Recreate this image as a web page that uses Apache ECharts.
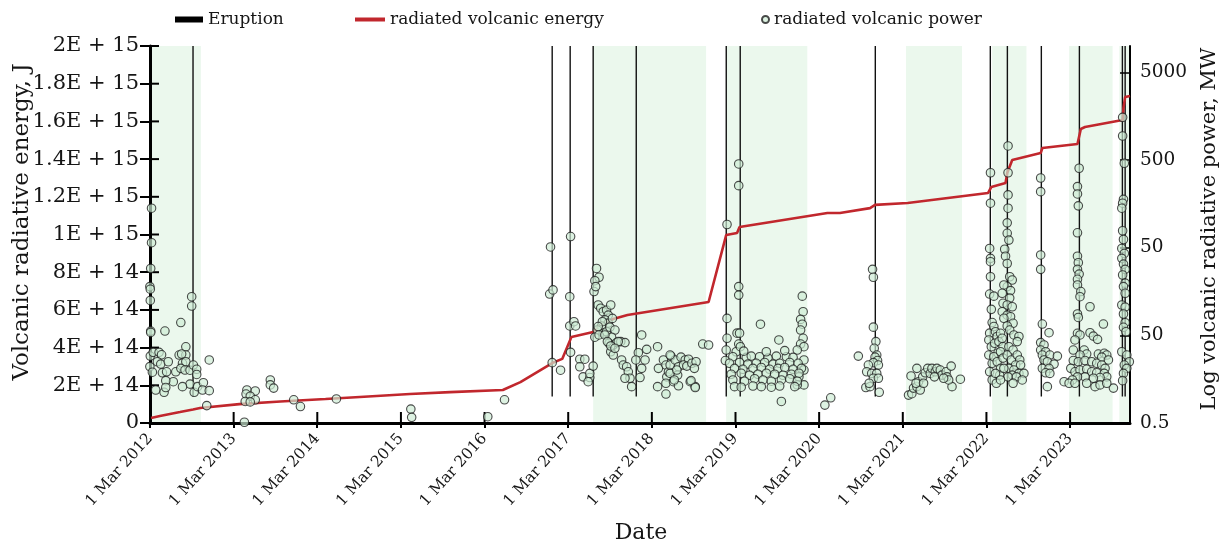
<!DOCTYPE html>
<html>
<head>
<meta charset="utf-8">
<script src="https://cdn.jsdelivr.net/npm/echarts@6/dist/echarts.min.js"></script>
<style>
html,body{margin:0;padding:0;background:#fff;}
#chart{width:1225px;height:547px;}
</style>
</head>
<body>
<div id="chart"></div>
<script>
// ---------- data (x values are decimal years) ----------
const xTickLabels = ['1 Mar 2012','1 Mar 2013','1 Mar 2014','1 Mar 2015','1 Mar 2016','1 Mar 2017',
  '1 Mar 2018','1 Mar 2019','1 Mar 2020','1 Mar 2021','1 Mar 2022','1 Mar 2023'];
const energyTickLabels = ['0','2E + 14','4E + 14','6E + 14','8E + 14','1E + 15','1.2E + 15','1.4E + 15',
  '1.6E + 15','1.8E + 15','2E + 15'];
const powerTickLabels = ['0.5','50','50','500','5000'];

const xMin = 2012.1616;   // 1 Mar 2012
const xMax = 2023.878;
const energyStep = 2e14;

// cumulative radiated volcanic energy, J
const energyDates = [2012.174,2012.28,2012.40,2012.52,2012.676,2012.76,2013.23,2013.72,2014.26,2014.67,
  2015.27,2015.75,2016.38,2016.59,2016.97,2017.09,2017.20,2017.46,2017.54,2017.70,2017.87,2018.84,
  2019.05,2019.18,2019.21,2020.26,2020.41,2020.77,2020.83,2021.22,2022.18,2022.22,2022.39,2022.41,
  2022.47,2022.81,2022.83,2023.25,2023.29,2023.34,2023.79,2023.80,2023.82,2023.878];
const energyValues = [2.6e13,3.7e13,4.8e13,5.8e13,7.2e13,8.0e13,1.0e14,1.14e14,1.27e14,1.38e14,
  1.54e14,1.64e14,1.75e14,2.17e14,3.18e14,3.4e14,4.56e14,4.83e14,5.2e14,5.52e14,5.73e14,6.42e14,
  9.97e14,1.008e15,1.04e15,1.114e15,1.114e15,1.14e15,1.157e15,1.167e15,1.22e15,1.252e15,1.273e15,1.326e15,
  1.395e15,1.432e15,1.459e15,1.48e15,1.56e15,1.57e15,1.607e15,1.671e15,1.729e15,1.735e15];

// eruptions (vertical lines spanning eruptionLow..eruptionHigh MW)
const eruptionDates = [2012.676,2016.97,2017.185,2017.46,2017.975,2019.051,2019.218,2020.833,
  2022.208,2022.412,2022.818,2023.273,2023.787,2023.82];
const eruptionLow = 1;
const eruptionHigh = 10000;

// periods of activity (shaded)
const activityStart = [2012.1616,2017.46,2019.05,2021.20,2022.23,2023.15,2023.75];
const activityEnd   = [2012.77,2018.81,2020.02,2021.87,2022.64,2023.67,2023.878];

// radiated volcanic power, MW  [decimal year, MW]
const power2012 = [[2012.18,141],[2012.18,57],[2012.17,29],[2012.16,18],[2012.165,16.8],[2012.165,12.5],
  [2012.17,5.6],[2012.17,5.4],[2012.165,2.9],[2012.16,2.2],[2012.19,1.9],[2012.34,5.6],[2012.53,7.0],
  [2012.20,3.2],[2012.27,3.2],[2012.30,3.0],[2012.25,2.5],[2012.29,2.35],[2012.38,2.5],[2012.31,1.87],
  [2012.36,1.92],[2012.44,1.48],[2012.35,1.52],[2012.23,1.19],[2012.33,1.12],[2012.35,1.27],[2012.47,1.92],
  [2012.51,2.98],[2012.59,3.7],[2012.59,2.98],[2012.54,3.06],[2012.55,2.4],[2012.59,2.5],[2012.53,2.1],
  [2012.58,2.01],[2012.64,2.0],[2012.68,2.29],[2012.72,2.05],[2012.72,1.79],[2012.64,1.39],[2012.55,1.3],
  [2012.69,1.12],[2012.73,1.3],[2012.80,1.44],[2012.79,1.19],[2012.87,1.17],[2012.87,2.62],[2012.84,0.79],
  [2012.66,13.8],[2012.66,10.8]];
const power2013to2016 = [[2013.32,1.19],[2013.42,1.16],[2013.31,1.07],[2013.36,1.01],[2013.42,0.92],
  [2013.30,0.88],[2013.36,0.87],[2013.60,1.55],[2013.60,1.36],[2013.64,1.25],[2013.88,0.92],[2013.96,0.77],
  [2014.39,0.94],[2013.29,0.51],[2015.28,0.72],[2015.29,0.58],[2016.20,0.59],[2016.40,0.92]];
const power2017 = [[2016.95,51],[2016.94,14.8],[2016.98,16.5],[2016.97,2.44],[2017.07,2.0],
  [2017.19,67],[2017.18,13.8],[2017.19,3.2],[2017.18,6.4],[2017.23,7.15],[2017.25,6.4],
  [2017.30,2.67],[2017.36,2.67],[2017.30,2.19],[2017.34,1.68],[2017.42,1.65],[2017.42,1.84],[2017.46,2.23],
  [2017.40,1.48],[2017.50,29],[2017.53,23],[2017.48,21],[2017.47,15.8],[2017.49,18],
  [2017.52,11.1],[2017.55,10.2],[2017.58,9.3],[2017.62,9.7],[2017.67,11.1],[2017.64,8.5],[2017.60,7.5],
  [2017.64,6.9],[2017.56,6.4],[2017.51,5.75],[2017.48,4.76],[2017.58,5.3],[2017.62,5.5],[2017.66,6.2],
  [2017.72,5.75],[2017.68,4.76],[2017.65,4.06],[2017.70,3.88],[2017.74,4.13],[2017.79,4.24],[2017.84,4.13],
  [2017.67,3.25],[2017.70,2.98],[2017.80,2.62],[2017.82,2.29],[2017.86,2.19],[2017.88,1.92],[2017.90,1.62],
  [2017.92,1.3],[2017.84,1.62],[2017.57,7.15],[2017.69,7.8],[2017.52,6.3],[2017.53,5.05],[2017.60,5.05],
  [2017.63,4.24],[2017.76,4.24],[2017.67,3.78],[2017.72,3.56]];
const power2018 = [[2018.04,5.05],[2018.00,3.17],[2018.10,3.46],[2018.08,2.62],[2018.04,2.1],[2018.02,1.65],
  [2017.97,2.62],[2018.23,3.71],[2018.24,2.1],[2018.23,1.3],[2018.30,2.62],[2018.33,2.29],[2018.34,1.68],
  [2018.33,1.42],[2018.33,1.07],[2018.36,1.92],[2018.38,2.29],[2018.39,2.9],[2018.44,2.62],[2018.48,2.19],
  [2018.47,1.76],[2018.42,1.48],[2018.48,1.33],[2018.51,2.82],[2018.56,2.62],[2018.60,2.67],[2018.54,2.29],
  [2018.58,2.23],[2018.64,2.4],[2018.69,2.5],[2018.67,2.1],[2018.62,1.48],[2018.68,1.3],[2018.77,3.98],
  [2018.84,3.88],[2018.38,2.98],[2018.38,1.84],[2018.43,1.55],[2018.46,2.01],[2018.63,1.52],[2018.68,1.27]];
const power2019 = [[2019.06,92],[2019.06,7.8],[2019.06,4.63],[2019.05,3.4],[2019.04,2.58],[2019.20,451],
  [2019.20,255],[2019.20,18],[2019.20,14.4],[2019.18,5.3],[2019.21,5.3],[2019.20,3.98],[2019.17,3.25],
  [2019.22,3.71],[2019.46,6.7],[2019.68,4.43],[2019.96,14],[2019.97,9.3],[2019.94,7.6],[2019.96,6.7],
  [2019.94,5.75],[2019.97,4.63],[2019.94,3.98],[2019.98,3.71],[2019.90,3.4],[2019.98,2.62],[2019.98,2.01],
  [2019.98,1.36],[2019.92,1.68],[2019.90,1.36],[2019.71,0.88],
  [2019.13,2.85],[2019.29,2.8],[2019.35,2.9],[2019.45,2.85],[2019.55,2.75],[2019.65,2.9],[2019.77,2.85],[2019.85,2.8],
  [2019.09,2.4],[2019.21,2.45],[2019.31,2.35],[2019.41,2.4],[2019.51,2.45],[2019.61,2.35],[2019.69,2.4],[2019.81,2.45],[2019.91,2.4],
  [2019.15,2.1],[2019.25,2.05],[2019.37,2.1],[2019.47,2.15],[2019.57,2.05],[2019.67,2.1],[2019.75,2.15],[2019.85,2.05],[2019.95,2.1],
  [2019.11,1.8],[2019.23,1.85],[2019.33,1.75],[2019.43,1.8],[2019.53,1.85],[2019.63,1.8],[2019.73,1.75],[2019.83,1.8],[2019.92,1.85],
  [2019.13,1.55],[2019.27,1.5],[2019.39,1.6],[2019.49,1.55],[2019.59,1.5],[2019.71,1.55],[2019.81,1.6],[2019.90,1.5],
  [2019.15,1.3],[2019.23,1.28],[2019.37,1.32],[2019.47,1.3],[2019.59,1.28],[2019.69,1.32],[2019.87,1.3],
  [2019.26,3.3],[2019.53,3.25],[2019.75,3.35]];
const power2020 = [[2020.23,0.80],[2020.30,0.97],[2020.63,2.9],[2020.80,28.3],[2020.81,23],[2020.81,6.2],
  [2020.84,4.24],[2020.82,3.56],[2020.85,2.98],[2020.83,2.82],[2020.86,2.58],[2020.81,2.44],[2020.87,2.29],
  [2020.75,2.29],[2020.73,1.92],[2020.79,1.84],[2020.85,1.84],[2020.81,1.62],[2020.72,1.27],[2020.77,1.3],
  [2020.88,1.12],[2020.87,1.62],[2020.76,1.42]];
const power2021 = [[2021.23,1.04],[2021.27,1.08],[2021.29,1.25],[2021.33,1.3],[2021.37,1.19],[2021.35,1.48],
  [2021.26,1.72],[2021.33,2.1],[2021.40,1.68],[2021.43,1.87],[2021.46,2.1],[2021.49,1.84],[2021.51,2.1],
  [2021.55,1.92],[2021.57,2.1],[2021.61,2.01],[2021.63,1.76],[2021.68,1.92],[2021.69,1.68],[2021.74,2.23],
  [2021.75,1.3],[2021.71,1.55],[2021.85,1.58],[2021.32,1.42],[2021.41,1.42],[2021.54,1.68],[2021.65,1.62]];
const power2022 = [[2022.21,358],[2022.21,161],[2022.20,49],[2022.21,37.8],[2022.21,34.6],[2022.21,23.3],
  [2022.20,14.8],[2022.25,14],[2022.22,9.9],[2022.23,7.0],[2022.20,5.3],[2022.19,4.43],[2022.22,3.71],
  [2022.19,2.98],[2022.23,2.4],[2022.20,1.92],[2022.23,1.55],[2022.28,1.42],[2022.25,6.3],[2022.27,5.5],
  [2022.29,4.85],[2022.26,4.06],[2022.31,4.24],[2022.30,3.14],[2022.25,2.85],[2022.29,2.5],[2022.33,2.1],
  [2022.32,1.76],[2022.27,1.84],[2022.33,5.28],[2022.35,4.63],[2022.36,3.71],[2022.33,3.25],[2022.36,2.75],
  [2022.42,724],[2022.42,358],[2022.42,200],[2022.42,141],[2022.41,96],[2022.41,73],[2022.43,61],[2022.38,48],
  [2022.39,40],[2022.41,33],[2022.44,23.3],[2022.47,21.4],[2022.41,18],[2022.37,18.8],[2022.35,15.1],
  [2022.45,16.2],[2022.44,13.3],[2022.36,11.6],[2022.41,11.1],[2022.47,10.6],[2022.35,9.3],[2022.41,8.5],
  [2022.45,8.16],[2022.37,7.82],[2022.48,6.86],[2022.41,6.39],[2022.44,5.75],[2022.49,5.05],[2022.55,4.85],
  [2022.53,4.24],[2022.43,3.71],[2022.48,3.4],[2022.41,2.98],[2022.46,2.62],[2022.53,2.98],[2022.56,2.62],
  [2022.51,2.29],[2022.57,2.29],[2022.43,2.1],[2022.49,2.01],[2022.55,1.84],[2022.61,1.84],[2022.47,1.76],
  [2022.42,1.68],[2022.52,1.68],[2022.37,2.1],[2022.33,1.55],[2022.59,1.55],[2022.48,1.42],
  [2022.81,312],[2022.81,218],[2022.81,41.3],[2022.81,28.3],[2022.83,6.73],[2022.91,5.36],[2022.81,4.13],
  [2022.85,3.88],[2022.81,3.4],[2022.87,3.25],[2022.83,2.98],[2022.92,2.98],[2023.01,2.9],[2022.85,2.62],
  [2022.89,2.5],[2022.97,2.35],[2022.83,2.1],[2022.91,2.1],[2022.87,1.87],[2022.92,1.84],[2022.89,1.3]];
const power2023 = [[2023.27,403],[2023.25,249],[2023.25,205],[2023.26,150],[2023.25,74],[2023.25,40],
  [2023.26,33.7],[2023.25,28.3],[2023.27,25],[2023.25,21.8],[2023.25,18.8],[2023.29,15.8],[2023.28,13.8],
  [2023.40,10.6],[2023.25,8.76],[2023.26,8.0],[2023.25,5.28],[2023.28,5.05],[2023.22,4.43],[2023.40,5.36],
  [2023.44,4.9],[2023.49,4.5],[2023.56,6.73],[2023.20,3.4],[2023.33,3.4],[2023.36,3.06],[2023.28,2.98],
  [2023.20,2.58],[2023.26,2.5],[2023.34,2.58],[2023.42,2.5],[2023.50,3.06],[2023.57,3.12],[2023.60,2.98],
  [2023.54,2.82],[2023.62,2.62],[2023.48,2.4],[2023.54,2.29],[2023.58,2.1],[2023.17,2.1],[2023.22,1.92],
  [2023.28,2.01],[2023.36,2.05],[2023.42,1.92],[2023.48,1.87],[2023.57,1.84],[2023.60,1.68],[2023.52,1.65],
  [2023.44,1.62],[2023.34,1.68],[2023.25,1.68],[2023.19,1.55],[2023.09,1.48],[2023.15,1.42],[2023.22,1.42],
  [2023.36,1.42],[2023.46,1.3],[2023.52,1.36],[2023.68,1.25],[2023.60,1.42],
  [2023.79,1535],[2023.79,940],[2023.81,459],[2023.80,178],[2023.79,161],[2023.78,141],[2023.79,78],
  [2023.80,62],[2023.78,49],[2023.81,43],[2023.78,37.8],[2023.80,32.5],[2023.82,28.3],[2023.79,24.4],
  [2023.82,19.7],[2023.80,18],[2023.82,15.1],[2023.78,11.1],[2023.82,10.5],[2023.80,8.76],[2023.82,6.97],
  [2023.80,6.18],[2023.83,5.5],[2023.78,3.25],[2023.84,2.98],[2023.87,2.5],[2023.81,2.29],[2023.84,2.1],
  [2023.80,1.84],[2023.79,1.52]];

// ---------- chart ----------
const FONT = "'DejaVu Serif', 'Liberation Serif', serif";
const TXT = '#161616';
const powerData = [].concat(power2012, power2013to2016, power2017, power2018, power2019,
  power2020, power2021, power2022, power2023);
const energyData = energyDates.map((d, i) => [d, energyValues[i]]);
const eruptionData = eruptionDates.map(d => [d, eruptionLow, eruptionHigh]);
const bandData = activityStart.map((s, i) => [s, activityEnd[i]]);
const xTickValues = xTickLabels.map((_, i) => [xMin + i, 0]);
const yTickValues = energyTickLabels.map((_, i) => [xMin, i * energyStep]);

const chart = echarts.init(document.getElementById('chart'), null, {renderer: 'canvas'});
const AZ = 1.5;

chart.setOption({
  animation: false,
  backgroundColor: '#fff',
  grid: {left: 150, right: 95, top: 46, bottom: 124, containLabel: false},
  legend: [
    {data: [{name: 'Eruption', icon: 'rect'}], left: 170, top: 6, itemWidth: 28, itemHeight: 6,
      itemGap: 0, textStyle: {fontFamily: FONT, fontSize: 17, color: TXT}, selectedMode: false},
    {data: [{name: 'radiated volcanic energy', icon: 'rect'}], left: 350, top: 6, itemWidth: 30, itemHeight: 4,
      textStyle: {fontFamily: FONT, fontSize: 17, color: TXT}, selectedMode: false},
    {data: [{name: 'radiated volcanic power', icon: 'circle'}], left: 756, top: 6, itemWidth: 7, itemHeight: 7,
      textStyle: {fontFamily: FONT, fontSize: 17, color: TXT}, selectedMode: false}
  ],
  xAxis: [{
    type: 'value', min: xMin, max: xMax, interval: 1, position: 'bottom', z: AZ, splitLine: {show: false},
    axisLine: {show: true, onZero: false, lineStyle: {color: '#000', width: 3}},
    axisTick: {show: true, inside: false, length: 5, lineStyle: {color: '#000', width: 2}},
    axisLabel: {rotate: 48, margin: 13, showMaxLabel: false, fontFamily: FONT, fontSize: 15.5, color: TXT,
      formatter: (v, i) => xTickLabels[i] || ''}
  }],
  yAxis: [
    {type: 'value', min: 0, max: 2e15, interval: energyStep, position: 'left', z: AZ, splitLine: {show: false},
      axisLine: {show: true, onZero: false, lineStyle: {color: '#000', width: 3}},
      axisTick: {show: true, inside: false, length: 10, lineStyle: {color: '#000', width: 2}},
      axisLabel: {margin: 11, fontFamily: FONT, fontSize: 21, color: TXT,
        formatter: (v, i) => energyTickLabels[i] || ''}},
    {type: 'log', logBase: 10, min: 0.5, max: 10000, position: 'right', z: AZ,
      axisLine: {show: true, onZero: false, lineStyle: {color: '#000', width: 2}},
      axisTick: {show: false}, axisLabel: {show: false}, splitLine: {show: false}},
    {type: 'value', min: Math.log10(0.5), max: 4, interval: 1, position: 'right', z: AZ,
      axisLine: {show: false, onZero: false},
      axisTick: {show: true, inside: true, length: 10, lineStyle: {color: '#000', width: 1.5}},
      axisLabel: {margin: 10, showMaxLabel: false, fontFamily: FONT, fontSize: 18.5, color: TXT,
        formatter: (v, i) => powerTickLabels[i] || ''},
      splitLine: {show: false}}
  ],
  graphic: [
    {type: 'text', x: 22, y: 222, rotation: Math.PI / 2,
      style: {text: 'Volcanic radiative energy, J', fill: TXT, font: "23px 'DejaVu Serif'", align: 'center', verticalAlign: 'middle'}},
    {type: 'text', x: 1210, y: 229, rotation: Math.PI / 2,
      style: {text: 'Log volcanic radiative power, MW', fill: TXT, font: "21px 'DejaVu Serif'", align: 'center', verticalAlign: 'middle'}},
    {type: 'text', x: 641, y: 533,
      style: {text: 'Date', fill: TXT, font: "22px 'DejaVu Serif'", align: 'center', verticalAlign: 'middle'}}
  ],
  series: [
    {name: 'activity', type: 'custom', xAxisIndex: 0, yAxisIndex: 1, z: 0, silent: true,
      data: bandData, encode: {x: [0, 1]},
      renderItem: (params, api) => {
        const a = api.coord([api.value(0), eruptionHigh]);
        const b = api.coord([api.value(1), eruptionHigh]);
        const cs = params.coordSys;
        return {type: 'rect', shape: {x: a[0], y: cs.y, width: b[0] - a[0], height: cs.height},
          style: {fill: '#ebf8ed'}};
      }},
    {name: 'xTicksInner', type: 'custom', xAxisIndex: 0, yAxisIndex: 0, z: 1.6, silent: true,
      data: xTickValues, encode: {x: 0, y: 1},
      renderItem: (params, api) => {
        const p = api.coord([api.value(0), api.value(1)]);
        return {type: 'line', shape: {x1: p[0], y1: p[1], x2: p[0], y2: p[1] - 11},
          style: {stroke: '#000', lineWidth: 2}};
      }},
    {name: 'yTicksInner', type: 'custom', xAxisIndex: 0, yAxisIndex: 0, z: 1.6, silent: true,
      data: yTickValues, encode: {x: 0, y: 1},
      renderItem: (params, api) => {
        const p = api.coord([api.value(0), api.value(1)]);
        return {type: 'line', shape: {x1: p[0], y1: p[1], x2: p[0] + 9, y2: p[1]},
          style: {stroke: '#000', lineWidth: 2}};
      }},
    {name: 'Eruption', type: 'custom', xAxisIndex: 0, yAxisIndex: 1, z: 1,
      itemStyle: {color: '#000'},
      data: eruptionData, encode: {x: 0, y: [1, 2]},
      renderItem: (params, api) => {
        const p1 = api.coord([api.value(0), api.value(1)]);
        const p2 = api.coord([api.value(0), api.value(2)]);
        return {type: 'line', shape: {x1: p1[0], y1: p1[1], x2: p2[0], y2: p2[1]},
          style: {stroke: '#111', lineWidth: 1.4}};
      }},
    {name: 'radiated volcanic energy', type: 'line', xAxisIndex: 0, yAxisIndex: 0, z: 2,
      data: energyData, symbol: 'none', showSymbol: false,
      itemStyle: {color: '#c1272d'}, lineStyle: {color: '#c1272d', width: 2.6}},
    {name: 'radiated volcanic power', type: 'scatter', xAxisIndex: 0, yAxisIndex: 1, z: 3, clip: false,
      data: powerData, symbol: 'circle', symbolSize: 8.5,
      itemStyle: {color: 'rgba(205,236,212,0.85)', borderColor: '#1e1e1e', borderWidth: 1.1}}
  ]
});
</script>
</body>
</html>
